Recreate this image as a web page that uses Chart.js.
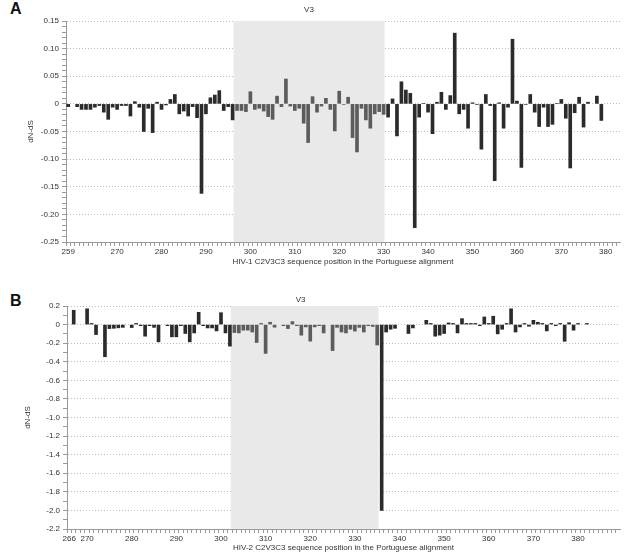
<!DOCTYPE html>
<html>
<head>
<meta charset="utf-8">
<script src="https://cdn.jsdelivr.net/npm/chart.js@4.4.1/dist/chart.umd.min.js"></script>
<style>
  body { margin: 0; background: #fff; font-family: "Liberation Sans", Arial, sans-serif; }
  .panel { position: absolute; left: 0; width: 625px; }
  .tag { position: absolute; left: 10px; font-weight: bold; font-size: 16px; color: #111; }
</style>
</head>
<body>
<div class="tag" style="top:0px">A</div>
<div class="panel" style="top:0;height:271px"><canvas id="chartA"></canvas></div>
<div class="tag" style="top:292px">B</div>
<div class="panel" style="top:280px;height:277px"><canvas id="chartB"></canvas></div>
<script>
// HIV-1 panel: alignment positions and dN-dS per site
const posA = [
  259, 260, 261, 262, 263, 264, 265, 266, 267, 268,
  269, 270, 271, 272, 273, 274, 275, 276, 277, 278,
  279, 280, 281, 282, 283, 284, 285, 286, 287, 288,
  289, 290, 291, 292, 293, 294, 295, 296, 297, 298,
  299, 300, 301, 302, 303, 304, 305, 306, 307, 308,
  309, 310, 311, 312, 313, 314, 315, 316, 317, 318,
  319, 320, 321, 322, 323, 324, 325, 326, 327, 328,
  329, 330, 331, 332, 333, 334, 335, 336, 337, 338,
  339, 340, 341, 342, 343, 344, 345, 346, 347, 348,
  349, 350, 351, 352, 353, 354, 355, 356, 357, 358,
  359, 360, 361, 362, 363, 364, 365, 366, 367, 368,
  369, 370, 371, 372, 373, 374, 375, 376, 377, 378,
  379
];
const dnDsA = [
  -0.005, null, -0.005, -0.010, -0.010, -0.010, -0.006, -0.003, -0.015, -0.028,
  -0.006, -0.010, -0.003, -0.003, -0.022, 0.004, -0.006, -0.050, -0.008, -0.052,
  0.003, -0.010, -0.002, 0.008, 0.017, -0.018, -0.013, -0.022, -0.005, -0.025,
  -0.162, -0.018, 0.011, 0.016, 0.024, -0.012, -0.005, -0.029, -0.012, -0.012,
  -0.014, 0.022, -0.010, -0.008, -0.013, -0.023, -0.028, 0.014, -0.005, 0.045,
  -0.004, -0.012, -0.008, -0.035, -0.070, 0.013, -0.015, -0.004, 0.010, -0.010,
  -0.049, 0.023, -0.001, 0.012, -0.061, -0.087, -0.008, -0.029, -0.044, -0.018,
  -0.014, -0.019, -0.024, 0.009, -0.058, 0.040, 0.025, 0.019, -0.224, -0.024,
  0.001, -0.015, -0.054, 0.003, 0.021, -0.010, 0.015, 0.128, -0.018, -0.010,
  -0.044, 0.002, -0.001, -0.082, 0.017, -0.003, -0.139, 0.002, -0.044, -0.006,
  0.117, 0.005, -0.115, -0.001, 0.017, -0.015, -0.041, -0.006, -0.041, -0.037,
  0.001, 0.008, -0.026, -0.116, -0.016, 0.012, -0.042, 0.003, null, 0.014,
  -0.030
];
const xLabelsA = [259, 270, 280, 290, 300, 310, 320, 330, 340, 350, 360, 370, 380];

// HIV-2 panel
const posB = [
  266, 267, 268, 269, 270, 271, 272, 273, 274, 275,
  276, 277, 278, 279, 280, 281, 282, 283, 284, 285,
  286, 287, 288, 289, 290, 291, 292, 293, 294, 295,
  296, 297, 298, 299, 300, 301, 302, 303, 304, 305,
  306, 307, 308, 309, 310, 311, 312, 313, 314, 315,
  316, 317, 318, 319, 320, 321, 322, 323, 324, 325,
  326, 327, 328, 329, 330, 331, 332, 333, 334, 335,
  336, 337, 338, 339, 340, 341, 342, 343, 344, 345,
  346, 347, 348, 349, 350, 351, 352, 353, 354, 355,
  356, 357, 358, 359, 360, 361, 362, 363, 364, 365,
  366, 367, 368, 369, 370, 371, 372, 373, 374, 375,
  376, 377, 378, 379, 380, 381, 382
];
const dnDsB = [
  null, 0.154, null, null, 0.170, 0.012, -0.107, null, -0.346, -0.043,
  -0.040, -0.035, -0.030, null, -0.032, 0.012, -0.012, -0.125, -0.012, -0.030,
  -0.186, null, -0.012, -0.132, -0.132, -0.012, -0.096, -0.186, -0.090, 0.132,
  -0.012, -0.036, -0.036, -0.068, 0.128, -0.090, -0.232, -0.086, -0.090, -0.060,
  -0.060, -0.080, -0.193, 0.012, -0.310, 0.025, -0.028, null, -0.012, -0.043,
  0.032, -0.012, -0.114, -0.025, -0.178, -0.025, -0.012, -0.090, null, -0.280,
  -0.030, -0.080, -0.090, -0.050, -0.070, -0.030, -0.080, -0.012, -0.020, -0.220,
  -2.000, -0.080, -0.050, -0.040, null, null, -0.096, -0.036, null, null,
  0.046, 0.012, -0.125, -0.114, -0.096, 0.018, 0.012, -0.090, 0.064, 0.012,
  0.012, 0.012, -0.012, 0.082, 0.012, 0.090, -0.100, -0.050, 0.012, 0.170,
  -0.080, -0.025, 0.012, -0.018, 0.046, 0.025, 0.012, -0.068, 0.012, -0.012,
  0.012, -0.180, 0.020, -0.060, 0.012, null, 0.012
];
const xLabelsB = [266, 270, 280, 290, 300, 310, 320, 330, 340, 350, 360, 370, 380];

const v3A = [296.2, 330.2];
const v3B = [302.2, 335.3];

const FONT = '"Liberation Sans", Arial, sans-serif';
const TEXT = '#333';
const AXIS = '#9a9a9a';

// grey band behind the V3 loop, drawn over the grid but under the bars
const v3Band = {
  id: 'v3Band',
  beforeDatasetsDraw(chart, args, opts) {
    const {ctx, chartArea, scales: {x}} = chart;
    const x0 = x.getPixelForValue(opts.from);
    const x1 = x.getPixelForValue(opts.to);
    ctx.save();
    ctx.fillStyle = '#e9e9e9';
    ctx.fillRect(x0, chartArea.top, x1 - x0, chartArea.bottom - chartArea.top);
    ctx.fillStyle = TEXT;
    ctx.font = '8px ' + FONT;
    ctx.textAlign = 'center';
    ctx.textBaseline = 'middle';
    ctx.fillText('V3', (x0 + x1) / 2 + opts.dx, chartArea.top - opts.dy);
    ctx.restore();
  }
};

function makeChart(id, pos, vals, cfg) {
  const points = [];
  pos.forEach((p, i) => { if (vals[i] !== null) points.push({x: p, y: vals[i]}); });

  const xTicks = [];
  for (let v = cfg.xMin; v <= Math.floor(cfg.xMax); v++) xTicks.push({value: v});
  const yTicks = [];
  for (let i = cfg.yLo; i <= cfg.yHi; i++) yTicks.push({value: i / cfg.yDiv});
  const isMajor = v => Math.round(v * cfg.yDiv) % cfg.yEvery === 0;

  return new Chart(document.getElementById(id), {
    type: 'bar',
    data: {
      datasets: [{
        data: points,
        barThickness: 3,
        backgroundColor: ctx => {
          const x = ctx.raw ? ctx.raw.x : 0;
          return x >= cfg.band[0] && x <= cfg.band[1] ? '#5c5c5c' : '#2b2b2b';
        }
      }]
    },
    options: {
      responsive: true,
      maintainAspectRatio: false,
      animation: false,
      layout: { padding: cfg.padding },
      plugins: {
        legend: { display: false },
        tooltip: { enabled: false },
        v3Band: { from: cfg.band[0], to: cfg.band[1], dx: cfg.v3dx, dy: cfg.v3dy }
      },
      scales: {
        x: {
          type: 'linear',
          min: cfg.xMin,
          max: cfg.xMax,
          afterBuildTicks: s => { s.ticks = xTicks.slice(); },
          afterFit: s => { s.height = cfg.xHeight; },
          ticks: {
            autoSkip: false,
            maxRotation: 0,
            padding: 1,
            color: TEXT,
            font: { family: FONT, size: 8 },
            callback: v => cfg.xLabels.includes(v) ? String(v) : ''
          },
          grid: { drawOnChartArea: false, tickLength: 4, tickColor: AXIS },
          border: { color: AXIS },
          title: {
            display: true,
            text: cfg.xTitle,
            color: TEXT,
            font: { family: FONT, size: 8 },
            padding: { top: 0, bottom: 4 }
          }
        },
        y: {
          min: cfg.yLo / cfg.yDiv,
          max: cfg.yHi / cfg.yDiv,
          afterBuildTicks: s => { s.ticks = yTicks.slice(); },
          afterFit: s => { s.width = cfg.yWidth; },
          ticks: {
            autoSkip: false,
            padding: 3,
            color: TEXT,
            font: { family: FONT, size: 8 },
            callback: v => {
              if (!isMajor(v)) return '';
              return Math.abs(v) < 1e-9 ? '0' : v.toFixed(cfg.yDigits);
            }
          },
          grid: {
            color: c => (c.tick && isMajor(c.tick.value)) ? '#bdbdbd' : 'rgba(0,0,0,0)',
            tickColor: AXIS,
            tickLength: 4
          },
          border: { color: AXIS, dash: [1, 2] },
          title: {
            display: true,
            text: 'dN-dS',
            color: TEXT,
            font: { family: FONT, size: 8 },
            padding: { top: 4, bottom: 4 }
          }
        }
      }
    },
    plugins: [v3Band]
  });
}

makeChart('chartA', posA, dnDsA, {
  band: v3A, xMin: 259, xMax: 382.7, xLabels: xLabelsA,
  yLo: -25, yHi: 15, yDiv: 100, yEvery: 5, yDigits: 2,
  padding: { left: 22, right: 5, top: 21, bottom: 0 },
  xHeight: 29, yWidth: 44, v3dx: 0, v3dy: 11,
  xTitle: 'HIV-1 C2V3C3 sequence position in the Portuguese alignment'
});

makeChart('chartB', posB, dnDsB, {
  band: v3B, xMin: 266, xMax: 388.9, xLabels: xLabelsB,
  yLo: -22, yHi: 2, yDiv: 10, yEvery: 2, yDigits: 1,
  padding: { left: 19, right: 5, top: 26, bottom: 0 },
  xHeight: 28, yWidth: 48, v3dx: -4, v3dy: 6,
  xTitle: 'HIV-2 C2V3C3 sequence position in the Portuguese alignment'
});
</script>
</body>
</html>
